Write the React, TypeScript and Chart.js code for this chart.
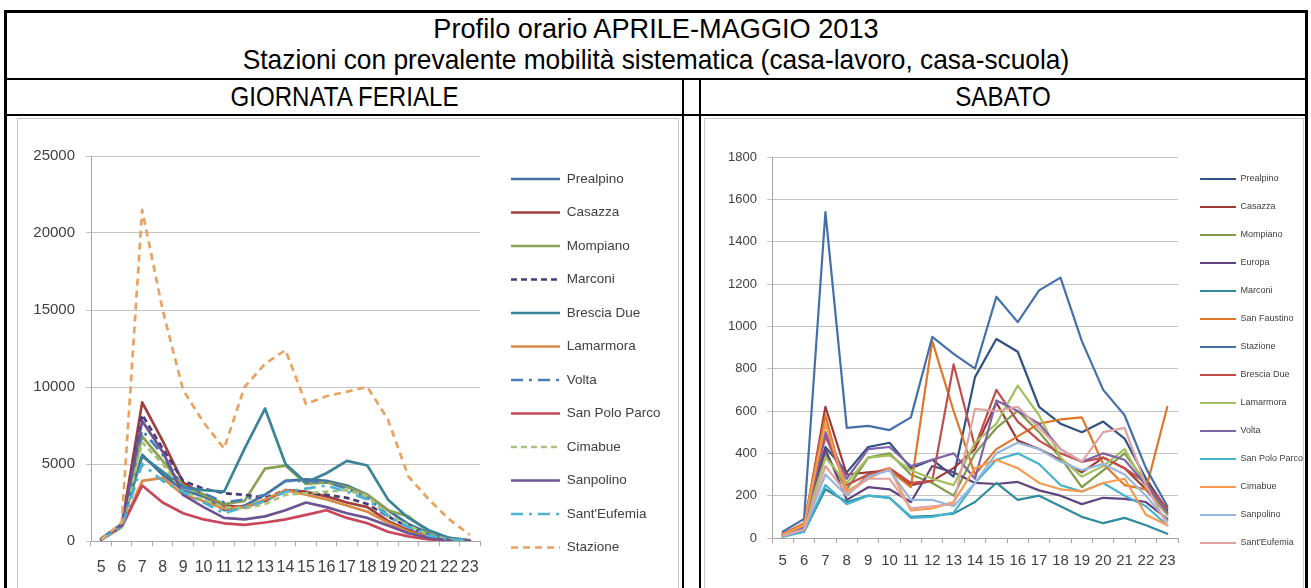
import React, { useEffect, useRef } from 'react';
import { Chart, registerables } from 'chart.js';

Chart.register(...registerables);

const FAMILY = "'Liberation Sans', Arial, sans-serif";

const TITLE1 = 'Profilo orario APRILE-MAGGIO 2013';
const TITLE2 = 'Stazioni con prevalente mobilità sistematica (casa-lavoro, casa-scuola)';
const HEAD_LEFT = 'GIORNATA FERIALE';
const HEAD_RIGHT = 'SABATO';

// hours (x categories)
const hours = ['5', '6', '7', '8', '9', '10', '11', '12', '13', '14', '15', '16', '17', '18', '19', '20', '21', '22', '23'];

// ---- GIORNATA FERIALE ----
const ferialeNames = ['Prealpino', 'Casazza', 'Mompiano', 'Marconi', 'Brescia Due', 'Lamarmora', 'Volta', 'San Polo Parco', 'Cimabue', 'Sanpolino', "Sant'Eufemia", 'Stazione'];
const prealpinoF = [150, 1100, 5600, 4300, 3300, 2900, 2000, 2300, 3000, 3900, 4000, 3900, 3600, 3000, 2000, 1100, 500, 150, 30];
const casazzaF = [100, 1000, 9000, 6500, 3800, 3000, 2300, 2200, 2600, 3300, 3200, 2900, 2500, 2200, 1300, 700, 300, 100, 20];
const mompianoF = [120, 1000, 6800, 5200, 3600, 3000, 2400, 2600, 4700, 4900, 3700, 3800, 3500, 3000, 2000, 1600, 600, 200, 50];
const marconiF = [100, 1000, 8200, 6000, 3900, 3400, 3100, 3000, 2800, 3300, 3100, 3000, 2800, 2400, 1600, 900, 400, 100, 20];
const bresciaDueF = [150, 1100, 5500, 4500, 3500, 3300, 3200, 6000, 8600, 5000, 3800, 4400, 5200, 4900, 2700, 1500, 700, 200, 50];
const lamarmoraF = [100, 900, 3900, 4100, 3000, 2600, 2100, 2200, 2700, 3300, 3000, 2700, 2300, 1900, 1200, 600, 250, 80, 20];
const voltaF = [120, 1000, 7200, 5600, 3500, 3100, 2500, 2700, 3000, 3900, 3900, 3800, 3400, 2800, 1700, 900, 400, 120, 20];
const sanPoloParcoF = [80, 900, 3600, 2500, 1800, 1400, 1150, 1050, 1200, 1400, 1700, 2000, 1500, 1150, 600, 300, 100, 50, 10];
const cimabueF = [100, 900, 6400, 5000, 3200, 2700, 2200, 2100, 2400, 3000, 3100, 3200, 3300, 2900, 1700, 1000, 400, 100, 20];
const sanpolinoF = [100, 1000, 7800, 5800, 3000, 2200, 1500, 1400, 1600, 2000, 2500, 2200, 1800, 1500, 1000, 500, 200, 50, 10];
const santEufemiaF = [100, 900, 5000, 3900, 3200, 2500, 1800, 2200, 2600, 3200, 3400, 3600, 3200, 2700, 1600, 900, 350, 100, 20];
const stazioneF = [100, 1200, 21500, 15000, 9800, 7700, 6000, 10000, 11500, 12400, 8900, 9400, 9700, 10000, 7900, 4200, 2700, 1400, 400];
const ferialeData = [prealpinoF, casazzaF, mompianoF, marconiF, bresciaDueF, lamarmoraF, voltaF, sanPoloParcoF, cimabueF, sanpolinoF, santEufemiaF, stazioneF];
const ferialeColors = ['#41719C', '#A0403C', '#8AA255', '#4B3B7A', '#3A8399', '#D88A45', '#4A7DB5', '#C8475A', '#A9C47A', '#6B5394', '#4FB3CF', '#E9A25F'];
const ferialeDashes: number[][] = [[], [], [], [6, 4], [], [], [12, 6, 3, 6], [], [6, 4], [], [12, 6, 3, 6], [7, 5]];
const ferialeTicks = [0, 5000, 10000, 15000, 20000, 25000];

// ---- SABATO ----
const sabatoNames = ['Prealpino', 'Casazza', 'Mompiano', 'Europa', 'Marconi', 'San Faustino', 'Stazione', 'Brescia Due', 'Lamarmora', 'Volta', 'San Polo Parco', 'Cimabue', 'Sanpolino', "Sant'Eufemia"];
const prealpinoS = [20, 60, 430, 310, 430, 450, 330, 370, 290, 760, 940, 880, 620, 540, 500, 550, 470, 280, 130];
const casazzaS = [15, 50, 620, 300, 310, 320, 250, 270, 330, 420, 640, 460, 420, 370, 310, 380, 330, 230, 110];
const mompianoS = [10, 40, 400, 230, 380, 400, 300, 260, 200, 400, 520, 600, 500, 380, 240, 320, 400, 260, 120];
const europaS = [10, 40, 420, 180, 240, 230, 170, 340, 310, 260, 255, 265, 225, 200, 160, 190, 185, 170, 90];
const marconiS = [10, 30, 230, 170, 200, 190, 100, 105, 115, 170, 260, 180, 200, 150, 100, 70, 95, 60, 20];
const sanFaustinoS = [20, 70, 580, 200, 300, 320, 240, 930, 600, 300, 420, 480, 540, 560, 570, 350, 250, 230, 620];
const stazioneS = [30, 90, 1540, 520, 530, 510, 570, 950, 870, 800, 1140, 1020, 1170, 1230, 930, 700, 580, 330, 150];
const bresciaDueS = [15, 60, 480, 250, 300, 330, 260, 270, 820, 430, 700, 550, 460, 400, 360, 380, 330, 260, 140];
const lamarmoraS = [15, 60, 380, 260, 380, 390, 320, 280, 250, 450, 540, 720, 580, 380, 290, 340, 420, 240, 110];
const voltaS = [10, 50, 500, 280, 420, 430, 340, 370, 400, 280, 650, 600, 540, 420, 360, 400, 370, 250, 120];
const sanPoloParcoS = [5, 30, 250, 160, 200, 190, 95, 100, 120, 260, 370, 400, 350, 250, 220, 260, 200, 150, 60];
const cimabueS = [15, 60, 540, 220, 280, 330, 130, 140, 170, 330, 370, 330, 260, 230, 220, 260, 280, 110, 60];
const sanpolinoS = [10, 40, 300, 200, 290, 320, 180, 180, 150, 260, 400, 450, 420, 360, 320, 350, 300, 200, 80];
const santEufemiaS = [10, 40, 340, 210, 280, 280, 140, 150, 160, 610, 600, 620, 520, 420, 360, 500, 520, 250, 60];
const sabatoData = [prealpinoS, casazzaS, mompianoS, europaS, marconiS, sanFaustinoS, stazioneS, bresciaDueS, lamarmoraS, voltaS, sanPoloParcoS, cimabueS, sanpolinoS, santEufemiaS];
const sabatoColors = ['#2F5282', '#9B3A38', '#7F9A48', '#61457F', '#2F8B9E', '#E0762A', '#4470AA', '#C24E4B', '#A3C05F', '#7E63A5', '#45B3CF', '#F59A4E', '#97B6DD', '#DFA3A1'];
const sabatoTicks = [0, 200, 400, 600, 800, 1000, 1200, 1400, 1600, 1800];

interface Geo {
  canvasLeft: number; canvasTop: number; canvasWidth: number; canvasHeight: number;
  plotLeft: number; plotTop: number; plotRight: number; plotBottom: number;
  legendTop: number; legendItemX: number;
  legendFont: number; legendPad: number; legendBoxW: number;
  yFont: number; xFont: number; yPad: number; xPad: number; lineWidth: number;
}

interface Props {
  geo: Geo;
  names: string[];
  data: number[][];
  colors: string[];
  dashes: number[][];
  ticks: number[];
}

function LineChart({ geo, names, data, colors, dashes, ticks }: Props) {
  const ref = useRef<HTMLCanvasElement | null>(null);
  useEffect(() => {
    const canvas = ref.current;
    if (!canvas) return;
    const g = geo;
    const pTop = g.legendTop - g.canvasTop;
    const titleH = Math.max(1, g.plotTop - g.legendTop);
    const xH = g.canvasTop + g.canvasHeight - g.plotBottom;
    const yW = g.plotLeft - g.canvasLeft;
    const legendLeft = g.legendItemX - g.legendPad - g.canvasLeft;
    const dummyW = legendLeft - (g.plotRight - g.canvasLeft);
    const mctx = document.createElement('canvas').getContext('2d')!;
    mctx.font = `normal ${g.legendFont}px ${FAMILY}`;
    let maxText = 0;
    names.forEach((n) => { maxText = Math.max(maxText, mctx.measureText(n).width); });
    const legendW = 10 + g.legendPad + g.legendBoxW + g.legendFont / 2 + maxText;
    const W = Math.max(g.canvasWidth, Math.ceil(legendLeft + legendW + 2));
    const pRight = W - legendLeft - legendW;
    canvas.width = W;
    canvas.height = g.canvasHeight;
    canvas.style.width = W + 'px';
    canvas.style.height = g.canvasHeight + 'px';
    const n = names.length;
    const defaultLabels = (Chart.defaults as any).plugins.legend.labels.generateLabels;
    const chart = new Chart(canvas, {
      type: 'line',
      data: {
        labels: hours,
        datasets: names.map((name, i) => ({
          label: name,
          data: data[i],
          borderColor: colors[i],
          backgroundColor: colors[i],
          borderWidth: g.lineWidth,
          borderDash: dashes[i] || [],
          borderJoinStyle: 'round' as const,
          borderCapStyle: (dashes[i] && dashes[i].length ? 'butt' : 'round') as any,
          pointRadius: 0,
          pointHoverRadius: 0,
          pointBorderWidth: g.lineWidth,
          tension: 0,
          fill: false,
          order: n - i,
        })),
      },
      options: {
        responsive: false,
        animation: false,
        devicePixelRatio: 1,
        events: [],
        layout: { padding: { top: pTop, bottom: 0, left: 0, right: pRight } },
        plugins: {
          title: { display: true, text: '', padding: { top: 0, bottom: titleH - 1 }, font: { size: 1, lineHeight: 1 } },
          tooltip: { enabled: false },
          legend: {
            display: true,
            position: 'right',
            align: 'center',
            maxWidth: 1000,
            labels: {
              usePointStyle: true,
              pointStyle: 'line',
              pointStyleWidth: g.legendBoxW,
              padding: g.legendPad,
              color: '#404040',
              font: { size: g.legendFont, family: FAMILY },
              sort: (a: any, b: any) => a.datasetIndex - b.datasetIndex,
              generateLabels: (c: any) => {
                const items = defaultLabels(c);
                items.forEach((it: any) => {
                  const ds = c.data.datasets[it.datasetIndex];
                  it.lineDash = ds.borderDash || [];
                  it.lineWidth = ds.borderWidth;
                  it.lineCap = 'butt';
                  it.strokeStyle = ds.borderColor;
                  it.fillStyle = ds.borderColor;
                });
                return items;
              },
            },
          },
        },
        scales: {
          x: {
            type: 'category',
            offset: true,
            grid: { display: true, drawOnChartArea: false, drawTicks: true, tickLength: 5, offset: true, color: '#A6A6A6' },
            border: { display: true, color: '#A6A6A6' },
            ticks: { autoSkip: false, maxRotation: 0, minRotation: 0, padding: g.xPad, color: '#404040', font: { size: g.xFont, family: FAMILY } },
            afterFit: (s: any) => { s.height = xH; },
          },
          y: {
            type: 'linear',
            min: ticks[0],
            max: ticks[ticks.length - 1],
            afterBuildTicks: (s: any) => { s.ticks = ticks.map((v) => ({ value: v })); },
            grid: { color: '#C4C4C4', lineWidth: 1, tickLength: 5, drawTicks: true },
            border: { display: true, color: '#A6A6A6' },
            ticks: { padding: g.yPad, color: '#404040', font: { size: g.yFont, family: FAMILY }, callback: (v: any) => String(v) },
            afterFit: (s: any) => { s.width = yW; },
          },
          yd: {
            type: 'linear',
            position: 'right',
            display: true,
            grid: { display: false, drawTicks: false },
            border: { display: false },
            ticks: { display: false },
            afterFit: (s: any) => { s.width = dummyW; },
          },
        },
      } as any,
    });
    return () => chart.destroy();
  }, []);
  return (
    <canvas
      ref={ref}
      style={{ position: 'absolute', left: geo.canvasLeft, top: geo.canvasTop, display: 'block' }}
    />
  );
}

const leftGeo: Geo = {
  canvasLeft: 18, canvasTop: 120, canvasWidth: 660, canvasHeight: 462,
  plotLeft: 91, plotTop: 156, plotRight: 480, plotBottom: 541,
  legendTop: 144.5, legendItemX: 511,
  legendFont: 13.5, legendPad: 20, legendBoxW: 49,
  yFont: 15, xFont: 16, yPad: 11, xPad: 12, lineWidth: 2.7,
};

const rightGeo: Geo = {
  canvasLeft: 706, canvasTop: 120, canvasWidth: 605, canvasHeight: 452,
  plotLeft: 772, plotTop: 157, plotRight: 1178, plotBottom: 538,
  legendTop: 150, legendItemX: 1200,
  legendFont: 9, legendPad: 19, legendBoxW: 36,
  yFont: 13, xFont: 15, yPad: 10, xPad: 9, lineWidth: 2.2,
};

const line = (left: number, top: number, width: number, height: number): React.CSSProperties => ({
  position: 'absolute', left, top, width, height, background: '#000',
});

const textStyle = (left: number, top: number, width: number, height: number, sx: number): React.CSSProperties => ({
  position: 'absolute', left, top, width, height, lineHeight: height + 'px', textAlign: 'center',
  fontFamily: FAMILY, fontSize: 28, color: '#000', whiteSpace: 'nowrap',
  transform: `scaleX(${sx})`, transformOrigin: 'center center',
});

export default function App() {
  return (
    <div style={{ position: 'absolute', left: 0, top: 0, width: 1311, height: 588, background: '#fff', overflow: 'hidden' }}>
      <div style={textStyle(7, 12, 1298, 34, 0.97)}>{TITLE1}</div>
      <div style={textStyle(7, 43, 1298, 34, 0.94)}>{TITLE2}</div>
      <div style={textStyle(7, 80, 675, 34, 0.86)}>{HEAD_LEFT}</div>
      <div style={textStyle(701, 80, 604, 34, 0.86)}>{HEAD_RIGHT}</div>

      <div style={{ position: 'absolute', left: 17, top: 118, width: 662, height: 480, border: '1px solid #C8C8C8', boxSizing: 'border-box' }} />
      <div style={{ position: 'absolute', left: 704, top: 118, width: 600, height: 480, border: '1px solid #C8C8C8', boxSizing: 'border-box' }} />

      <LineChart geo={leftGeo} names={ferialeNames} data={ferialeData} colors={ferialeColors} dashes={ferialeDashes} ticks={ferialeTicks} />
      <LineChart geo={rightGeo} names={sabatoNames} data={sabatoData} colors={sabatoColors} dashes={[]} ticks={sabatoTicks} />

      <div style={line(4, 10, 1304, 3)} />
      <div style={line(4, 10, 3, 578)} />
      <div style={line(1305, 10, 3, 578)} />
      <div style={line(4, 78, 1304, 2)} />
      <div style={line(4, 114, 1304, 2)} />
      <div style={line(682, 78, 2, 510)} />
      <div style={line(699, 78, 2, 510)} />
    </div>
  );
}
